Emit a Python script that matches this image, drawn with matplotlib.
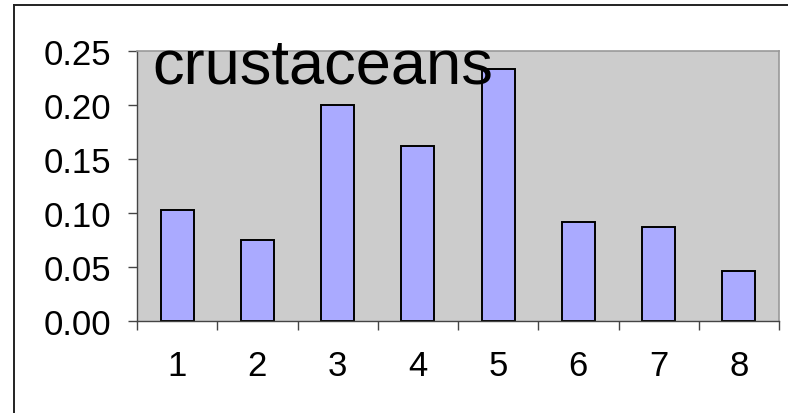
import matplotlib.pyplot as plt
from matplotlib.lines import Line2D

# values
categories = [1, 2, 3, 4, 5, 6, 7, 8]
values = [0.103, 0.075, 0.200, 0.162, 0.233, 0.092, 0.087, 0.046]
y_ticks = [0.00, 0.05, 0.10, 0.15, 0.20, 0.25]
title = "crustaceans"


def main() -> None:
    plt.rcParams["font.family"] = ["Liberation Sans", "DejaVu Sans"]

    fig = plt.figure(figsize=(7.88, 4.14), dpi=100)
    ax = fig.add_axes([137 / 788, 1 - 322 / 414, (779 - 137) / 788, (322 - 52) / 414])

    ax.set_facecolor("#cccccc")
    ax.bar(categories, values, width=0.41, color="#aaaaff",
           edgecolor="black", linewidth=1.4, zorder=2)

    ax.set_xlim(0.5, 8.5)
    ax.set_ylim(0, 0.25)

    ax.set_yticks(y_ticks)
    ax.set_yticklabels([f"{v:.2f}" for v in y_ticks])
    ax.tick_params(axis="y", length=6.5, width=1, color="#444444",
                   labelsize=25, pad=12)

    # ticks sit on category boundaries, labels at the centres
    ax.set_xticks([c - 0.5 for c in categories] + [categories[-1] + 0.5])
    ax.set_xticklabels([])
    ax.set_xticks(categories, minor=True)
    ax.set_xticklabels([str(c) for c in categories], minor=True)
    ax.tick_params(axis="x", which="major", length=6.5, width=1, color="#444444")
    ax.tick_params(axis="x", which="minor", length=0, labelsize=25, pad=20)

    for side in ("top", "right"):
        ax.spines[side].set_color("#999999")
        ax.spines[side].set_linewidth(1.2)
    for side in ("left", "bottom"):
        ax.spines[side].set_color("#444444")
        ax.spines[side].set_linewidth(1.0)

    ax.text(0.024, 0.885, title, transform=ax.transAxes, fontsize=45.5,
            ha="left", va="baseline", zorder=3)

    # frame of the embedded chart (only top and left edges are visible)
    fig.add_artist(Line2D([14 / 788, 14 / 788], [0, 1 - 6 / 414],
                          color="#222222", linewidth=1.4))
    fig.add_artist(Line2D([14 / 788, 1], [1 - 6 / 414, 1 - 6 / 414],
                          color="#222222", linewidth=1.4))

    fig.savefig("out.png", dpi=100)


if __name__ == "__main__":
    main()
